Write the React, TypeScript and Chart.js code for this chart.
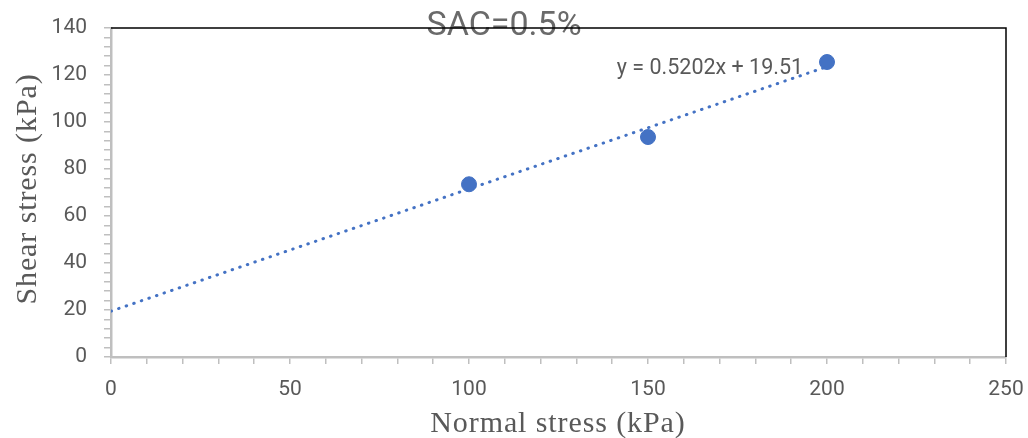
import React, { useEffect, useRef } from "react";
import { Chart, registerables } from "chart.js";
Chart.register(...registerables);

// ---- data ----
const normalStress = [100, 150, 200];
const shearStress = [73.5, 93.6, 125.52];
const trendRange = [0, 200];
const xTickLabels = [0, 50, 100, 150, 200, 250];
const yTickLabels = [0, 20, 40, 60, 80, 100, 120, 140];
const chartTitle = "SAC=0.5%";
const xTitle = "Normal stress (kPa)";
const yTitle = "Shear stress (kPa)";

function linearFit(xs: number[], ys: number[]) {
  const n = xs.length;
  const mx = xs.reduce((a, b) => a + b, 0) / n;
  const my = ys.reduce((a, b) => a + b, 0) / n;
  let sxy = 0;
  let sxx = 0;
  for (let i = 0; i < n; i++) {
    sxy += (xs[i] - mx) * (ys[i] - my);
    sxx += (xs[i] - mx) * (xs[i] - mx);
  }
  const slope = sxy / sxx;
  return { slope, intercept: my - slope * mx };
}

const BLUE = "#4472C4";
const GREY_TEXT = "#595959";
const AXIS_GREY = "#bfbfbf";

export default function App() {
  const ref = useRef<HTMLCanvasElement | null>(null);

  useEffect(() => {
    document.body.style.margin = "0";
    const canvas = ref.current;
    if (!canvas) return;
    const fit = linearFit(normalStress, shearStress);
    const trendData = trendRange.map((x) => ({ x, y: fit.slope * x + fit.intercept }));
    const eqText = `y = ${fit.slope.toFixed(4)}x + ${fit.intercept.toFixed(2)}`;

    const decor = {
      id: "decor",
      afterDraw(chart: any) {
        const { ctx, chartArea } = chart;
        const xs = chart.scales.x;
        const ys = chart.scales.y;
        ctx.save();
        // title
        ctx.fillStyle = "#6a6a6a";
        ctx.font = "34px Roboto";
        ctx.textAlign = "center";
        ctx.textBaseline = "middle";
        ctx.fillText(chartTitle, 504, 26);
        // equation label
        ctx.fillStyle = GREY_TEXT;
        ctx.font = "21.5px Roboto";
        ctx.textAlign = "left";
        ctx.fillText(eqText, xs.getPixelForValue(141.3), ys.getPixelForValue(122.6));
        // axis titles
        ctx.font = "30px 'Liberation Serif'";
        (ctx as any).letterSpacing = "0.9px";
        ctx.textAlign = "center";
        ctx.fillText(xTitle, 558, 424);
        ctx.save();
        ctx.translate(28, 189);
        ctx.rotate(-Math.PI / 2);
        ctx.fillText(yTitle, 0, 0);
        ctx.restore();
        (ctx as any).letterSpacing = "0px";
        // top and right border
        ctx.strokeStyle = "#000000";
        ctx.lineWidth = 1.5;
        ctx.beginPath();
        ctx.moveTo(chartArea.left, chartArea.top);
        ctx.lineTo(chartArea.right, chartArea.top);
        ctx.lineTo(chartArea.right, chartArea.bottom);
        ctx.stroke();
        ctx.restore();
      },
    };

    const chart = new Chart(canvas, {
      type: "scatter",
      data: {
        datasets: [
          {
            type: "line",
            label: "Trend",
            data: trendData,
            borderColor: BLUE,
            borderWidth: 3,
            borderDash: [0.5, 7.5],
            borderCapStyle: "round",
            pointRadius: 0,
            fill: false,
          } as any,
          {
            label: "Data",
            data: normalStress.map((x, i) => ({ x, y: shearStress[i] })),
            backgroundColor: BLUE,
            borderColor: BLUE,
            pointRadius: 7.5,
            pointHoverRadius: 7.5,
          },
        ],
      },
      options: {
        responsive: false,
        animation: false,
        layout: { padding: { top: 28, right: 22, left: 0, bottom: 0 } },
        plugins: {
          legend: { display: false },
          tooltip: { enabled: false },
          title: { display: false },
        },
        scales: {
          x: {
            type: "linear",
            min: xTickLabels[0],
            max: xTickLabels[xTickLabels.length - 1],
            afterFit: (s: any) => {
              s.height = 81;
              s.paddingLeft = 0;
              s.paddingRight = 0;
            },
            border: { display: true, color: AXIS_GREY, width: 2.5 },
            grid: {
              drawOnChartArea: false,
              drawTicks: true,
              tickLength: 7,
              color: AXIS_GREY,
              lineWidth: 1.5,
            },
            ticks: {
              stepSize: 10,
              autoSkip: false,
              maxRotation: 0,
              padding: 13,
              color: GREY_TEXT,
              font: { family: "Roboto", size: 21 },
              callback: (v: any) => (xTickLabels.includes(Number(v)) ? String(v) : ""),
            },
          },
          y: {
            type: "linear",
            min: yTickLabels[0],
            max: yTickLabels[yTickLabels.length - 1],
            afterFit: (s: any) => {
              s.width = 111;
              s.paddingTop = 0;
              s.paddingBottom = 0;
            },
            border: { display: true, color: AXIS_GREY, width: 2.5 },
            grid: {
              drawOnChartArea: false,
              drawTicks: true,
              tickLength: 7,
              color: AXIS_GREY,
              lineWidth: 1.5,
            },
            ticks: {
              stepSize: 4,
              autoSkip: false,
              padding: 17,
              color: GREY_TEXT,
              font: { family: "Roboto", size: 21 },
              callback: (v: any) => (yTickLabels.includes(Number(v)) ? String(v) : ""),
            },
          },
        },
      },
      plugins: [decor],
    });
    return () => chart.destroy();
  }, []);

  return (
    <div style={{ width: 1028, height: 438 }}>
      <canvas ref={ref} width={1028} height={438} style={{ display: "block" }} />
    </div>
  );
}
